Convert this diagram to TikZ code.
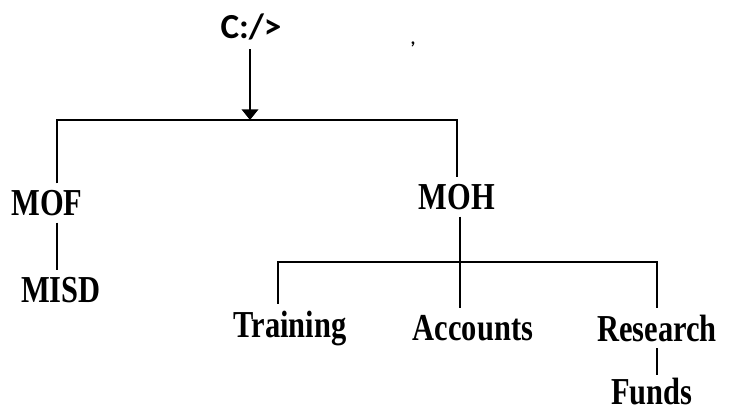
\documentclass[tikz,border=0pt]{standalone}
\usepackage{fontspec}
\setmainfont{Liberation Serif}
\newfontfamily\promptfont{Carlito}
\usetikzlibrary{arrows.meta}

\begin{document}
\begin{tikzpicture}[x=0.03cm, y=-0.03cm, line width=1.4pt,
  dir node/.style={font=\bfseries\fontsize{26}{26}\selectfont, inner sep=4pt, yscale=1.25, transform shape},
  prompt node/.style={font=\promptfont\bfseries\fontsize{30}{30}\selectfont, inner sep=7pt}]

    \useasboundingbox (0,0) rectangle (747,411);

    \node[prompt node] at (251,27) (root) {C:/>};
    \node[font=\promptfont\bfseries\fontsize{16}{16}\selectfont] at (413,44) (speck) {,};

    \coordinate (top) at (250,120);
    \coordinate (mid) at (460,262);

    \node[dir node] at (47,203) (mof) {MOF};
    \node[dir node] at (61,290) (misd) {MISD};
    \node[dir node] at (457,197) (moh) {MOH};
    \node[dir node] at (290,328) (train) {Training};
    \node[dir node] at (473,328) (acc) {Accounts};
    \node[dir node] at (657,328) (research) {Research};
    \node[dir node, inner sep=2pt] at (652,392) (funds) {Funds};

    \draw[-{Triangle[length=3.2mm,width=5mm]}] (root.south -| top) -- (top);
    \draw ([xshift=3mm]mof.north) |- (top) -| (moh.north);
    \draw ([xshift=3mm]mof.south) -- ([xshift=3mm]mof.south |- misd.north);
    \draw (moh.south -| mid) -- (mid);
    \draw ([xshift=-3.6mm]train.north) |- (mid) -| (research.north);
    \draw (mid) -- (mid |- acc.north);
    \draw (research.south) -- (research.south |- funds.north);
\end{tikzpicture}
\end{document}
